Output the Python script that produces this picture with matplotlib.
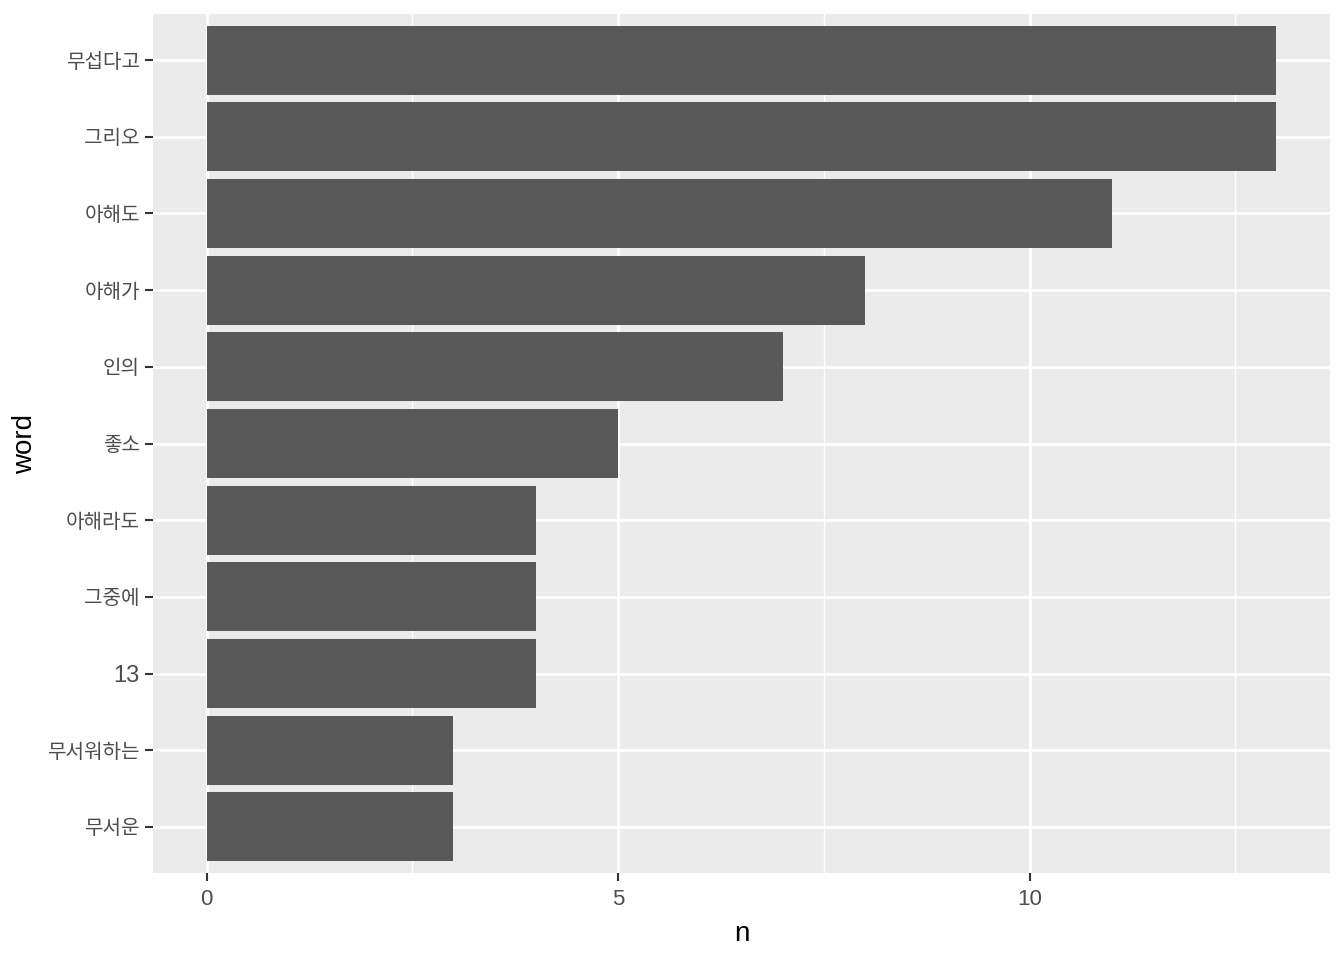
#!/usr/bin/env python3

import matplotlib
matplotlib.use('Agg')
import matplotlib.pyplot as plt
from matplotlib.ticker import MultipleLocator

# word counts, top to bottom as in the chart
words = ['무섭다고', '그리오', '아해도', '아해가', '인의', '좋소',
         '아해라도', '그중에', '13', '무서워하는', '무서운']
counts = [13, 13, 11, 8, 7, 5, 4, 4, 4, 3, 3]

plt.rcParams['font.family'] = ['Liberation Sans', 'Noto Sans CJK KR', 'DejaVu Sans']


def main():
    fig = plt.figure(figsize=(13.44, 9.6), dpi=100)
    ax = fig.add_axes([153 / 1344, 1 - 873 / 960, (1330 - 153) / 1344, (873 - 14) / 960])

    n = len(words)
    ypos = list(range(n))[::-1]
    ax.barh(ypos, counts, height=0.9, color='#595959', zorder=3)

    ax.set_facecolor('#EBEBEB')
    for side in ax.spines.values():
        side.set_visible(False)

    xmax = max(counts)
    ax.set_xlim(-0.05 * xmax, xmax * 1.05)
    ax.set_ylim(-0.6, n - 1 + 0.6)

    ax.xaxis.set_major_locator(MultipleLocator(5))
    ax.xaxis.set_minor_locator(MultipleLocator(2.5))
    ax.set_yticks(ypos)
    ax.set_yticklabels(words)

    ax.grid(which='major', color='white', linewidth=2.0, zorder=0)
    ax.grid(which='minor', axis='x', color='white', linewidth=1.0, zorder=0)
    ax.set_axisbelow(True)

    ax.tick_params(which='major', length=5.5, width=1.5, color='#333333',
                   labelcolor='#4D4D4D', labelsize=16, pad=4)
    ax.tick_params(axis='x', which='major', pad=6)
    ax.tick_params(which='minor', length=0)

    # hangul labels come out smaller than the latin digits in the reference
    for lab in ax.get_yticklabels():
        if not lab.get_text().isdigit():
            lab.set_fontsize(14.5)
        else:
            lab.set_fontsize(17)

    ax.set_xlabel('n', fontsize=20, color='black', labelpad=8)
    ax.yaxis.set_label_coords(-115 / 1177, 0.5)
    ax.set_ylabel('word', fontsize=20, color='black')

    fig.savefig('out.png', dpi=100, facecolor='white')


if __name__ == '__main__':
    main()
